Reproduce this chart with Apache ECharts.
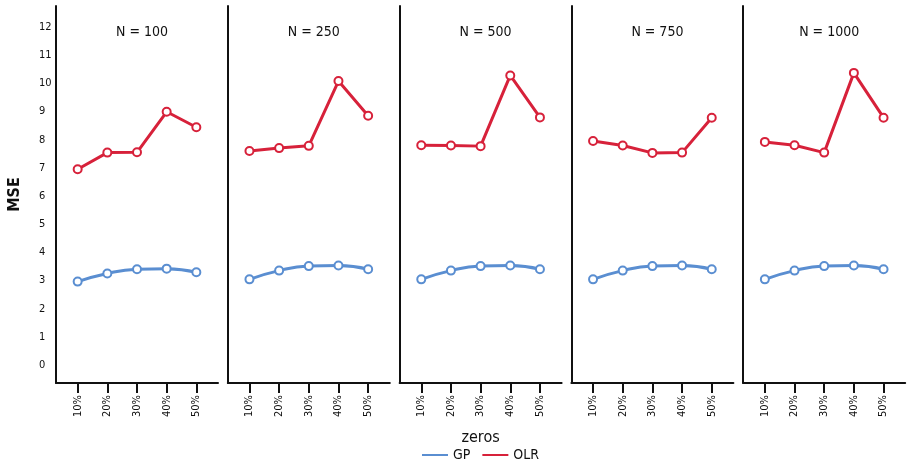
<!DOCTYPE html>
<html>
<head>
<meta charset="utf-8">
<script src="https://cdn.jsdelivr.net/npm/echarts@6/dist/echarts.min.js"></script>
<style>html,body{margin:0;padding:0;background:#fff}#c{width:919px;height:470px}</style>
</head>
<body>
<div id="c"></div>
<script>
// ---- data ----
const panelTitles = ['N = 100', 'N = 250', 'N = 500', 'N = 750', 'N = 1000'];
const zeroLevels = ['10%', '20%', '30%', '40%', '50%'];
const yTickValues = [0, 1, 2, 3, 4, 5, 6, 7, 8, 9, 10, 11, 12];
const seriesNames = ['GP', 'OLR'];

const gpN100  = [2.96, 3.25, 3.40, 3.42, 3.29];
const gpN250  = [3.04, 3.35, 3.51, 3.53, 3.40];
const gpN500  = [3.04, 3.35, 3.51, 3.53, 3.40];
const gpN750  = [3.04, 3.35, 3.51, 3.53, 3.40];
const gpN1000 = [3.04, 3.35, 3.51, 3.53, 3.40];

const olrN100  = [6.95, 7.54, 7.55, 8.99, 8.44];
const olrN250  = [7.60, 7.70, 7.78, 10.08, 8.85];
const olrN500  = [7.80, 7.79, 7.77, 10.28, 8.79];
const olrN750  = [7.95, 7.79, 7.53, 7.54, 8.78];
const olrN1000 = [7.92, 7.80, 7.54, 10.37, 8.78];

const gpData = [gpN100, gpN250, gpN500, gpN750, gpN1000];
const olrData = [olrN100, olrN250, olrN500, olrN750, olrN1000];

// ---- styling ----
const FONT = "'Liberation Sans Narrow', 'DejaVu Sans Condensed', sans-serif";
const GP_COLOR = '#5a8ed1';
const OLR_COLOR = '#d7213a';
const panelLeft0 = 56, panelStep = 171.8, panelWidth = 162;

const chart = echarts.init(document.getElementById('c'), null, {renderer: 'canvas'});

const grids = [], xAxes = [], yAxes = [], titles = [], series = [];
const idx = zeroLevels.map((_, i) => i);

panelTitles.forEach((t, p) => {
  const left = panelLeft0 + p * panelStep;
  grids.push({left: left, top: 6, width: panelWidth, height: 377,
    containLabel: false, outerBoundsMode: 'none'});
  titles.push({
    text: t, left: left + panelWidth / 2, top: 20, textAlign: 'center',
    textStyle: {fontFamily: FONT, fontSize: 14, fontWeight: 'normal', color: '#111'}
  });
  xAxes.push({
    type: 'value', gridIndex: p, min: -0.73, max: 4.73,
    name: p === 2 ? 'zeros' : '', nameLocation: 'middle', nameGap: 47, nameMoveOverlap: false,
    nameTextStyle: {fontFamily: FONT, fontSize: 16, color: '#111'},
    axisLine: {show: true, onZero: false, lineStyle: {color: '#111', width: 2}},
    axisTick: {show: true, length: 10, customValues: idx, lineStyle: {color: '#111', width: 2}},
    axisLabel: {show: true, customValues: idx, rotate: 90, margin: 12,
      fontFamily: FONT, fontSize: 11, color: '#111',
      formatter: v => zeroLevels[Math.round(v)]},
    splitLine: {show: false}
  });
  yAxes.push({
    type: 'value', gridIndex: p, min: -0.64, max: 12.745,
    name: p === 0 ? 'MSE' : '', nameLocation: 'middle', nameGap: 33, nameRotate: 90, nameMoveOverlap: false,
    nameTextStyle: {fontFamily: FONT, fontSize: 16, fontWeight: 'bold', color: '#111'},
    axisLine: {show: true, onZero: false, lineStyle: {color: '#111', width: 2}},
    axisTick: {show: false},
    axisLabel: {show: p === 0, customValues: yTickValues, align: 'left', margin: 17,
      fontFamily: FONT, fontSize: 11, color: '#111'},
    splitLine: {show: false}
  });
  series.push({
    name: 'GP', type: 'line', xAxisIndex: p, yAxisIndex: p,
    data: gpData[p].map((v, i) => [idx[i], v]),
    smooth: true, symbol: 'emptyCircle', symbolSize: 8,
    lineStyle: {color: GP_COLOR, width: 3},
    itemStyle: {color: GP_COLOR, borderColor: GP_COLOR, borderWidth: 2},
    emphasis: {disabled: true}
  });
  series.push({
    name: 'OLR', type: 'line', xAxisIndex: p, yAxisIndex: p,
    data: olrData[p].map((v, i) => [idx[i], v]),
    smooth: false, symbol: 'emptyCircle', symbolSize: 8,
    lineStyle: {color: OLR_COLOR, width: 3},
    itemStyle: {color: OLR_COLOR, borderColor: OLR_COLOR, borderWidth: 2},
    emphasis: {disabled: true}
  });
});

chart.setOption({
  animation: false,
  backgroundColor: '#fff',
  title: titles,
  grid: grids,
  xAxis: xAxes,
  yAxis: yAxes,
  legend: {
    data: seriesNames.map(n => ({name: n, icon: 'rect',
      itemStyle: {color: n === 'GP' ? GP_COLOR : OLR_COLOR, borderWidth: 0}})),
    left: 417, top: 443, itemWidth: 26, itemHeight: 2, itemGap: 12,
    textStyle: {fontFamily: FONT, fontSize: 14, color: '#111'},
    selectedMode: false
  },
  series: series
});
</script>
</body>
</html>
